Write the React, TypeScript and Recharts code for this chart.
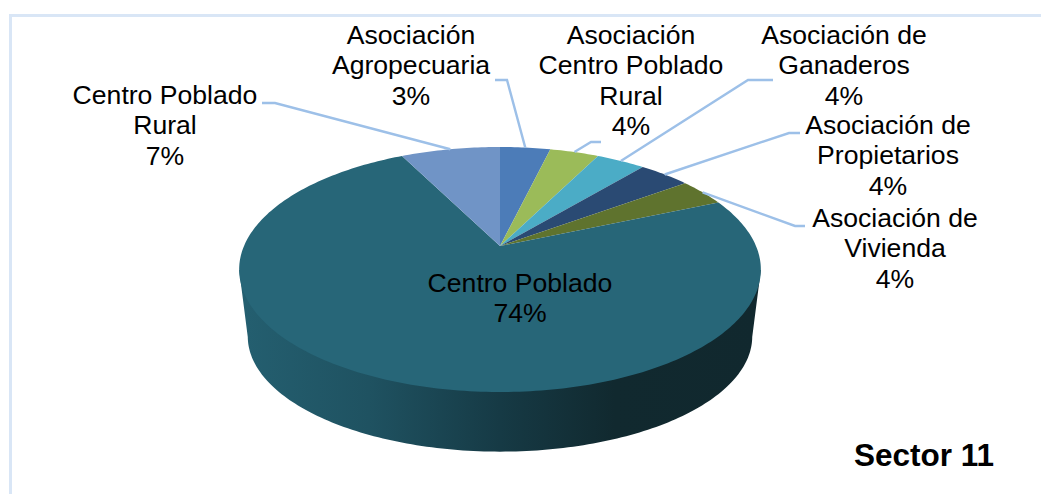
import React from "react";
import { PieChart, Pie } from "recharts";

const categories = [
  "Asociación Agropecuaria",
  "Asociación Centro Poblado Rural",
  "Asociación de Ganaderos",
  "Asociación de Propietarios",
  "Asociación de Vivienda",
  "Centro Poblado",
  "Centro Poblado Rural",
];
const values = [3.75, 3.65, 3.65, 3.85, 3.6, 74.1, 7.4];
const percents = [3, 4, 4, 4, 4, 74, 7];
const labelLines = [
  ["Asociación", "Agropecuaria"],
  ["Asociación", "Centro Poblado", "Rural"],
  ["Asociación de", "Ganaderos"],
  ["Asociación de", "Propietarios"],
  ["Asociación de", "Vivienda"],
  ["Centro Poblado"],
  ["Centro Poblado", "Rural"],
];
const colors = ["#4c7cb8", "#9bbb59", "#4bacc6", "#2a4a73", "#5f732e", "#276678", "#7094c6"];
const chartTitle = "Sector 11";

const data = categories.map((name, i) => ({ name, value: values[i] }));

// where each label sits, and the bent part of its leader (text end, then elbow)
const labelBoxes = [
  { x: 411, y: 44, leader: [[495, 80], [507, 80]] },
  { x: 631, y: 44, leader: [[601, 142], [591, 142]] },
  { x: 844, y: 44, leader: [[773, 80], [748, 80]] },
  { x: 888, y: 134, leader: [[800, 133], [789, 133]] },
  { x: 895, y: 227, leader: [[805, 226], [795, 226]] },
  { x: 520, y: 292, leader: null },
  { x: 165, y: 104, leader: [[262, 103], [275, 103]] },
];

const WIDTH = 1041;
const HEIGHT = 494;
const FONT = "'Liberation Sans', Arial, sans-serif";
const LINE_H = 30.4;

// tilted disc: circle angle -> screen point, the apex is not the middle of the ellipse
const TILT = 0.1918;
const SQUASH = 118 / 256;
const RAD = Math.PI / 180;

const project = (cx: number, cy: number, r: number, deg: number) => {
  const u = Math.cos(deg * RAD);
  const v = Math.sin(deg * RAD);
  const w = 1 + TILT * v;
  return [cx + (r * u) / w, cy - (r * SQUASH * v) / w];
};

const arcPoints = (cx: number, cy: number, r: number, from: number, to: number) => {
  const steps = Math.max(2, Math.ceil(Math.abs(to - from)));
  const pts: number[][] = [];
  for (let i = 0; i <= steps; i++) pts.push(project(cx, cy, r, from + ((to - from) * i) / steps));
  return pts;
};

const toPath = (pts: number[][]) =>
  "M" + pts.map((p) => `${p[0].toFixed(2)},${p[1].toFixed(2)}`).join("L") + "Z";

// side wall, seen only under the big slice
const WALL_FROM = 191.3;
const WALL_TO = 348.7;
const WALL_DROP = 68.4;
const WALL_SX = 0.967;
const WALL_SY = 0.94;

const Wall = ({ cx, cy, r }: { cx: number; cy: number; r: number }) => {
  const rim = arcPoints(cx, cy, r, WALL_FROM, WALL_TO);
  const lower = rim.map((p) => [cx + (p[0] - cx) * WALL_SX, cy + WALL_DROP + (p[1] - cy) * WALL_SY]);
  return (
    <g>
      <defs>
        <linearGradient id="wallFill" x1="0" y1="0" x2="1" y2="0">
          <stop offset="0" stopColor="#245f70" />
          <stop offset="0.25" stopColor="#1f5261" />
          <stop offset="0.5" stopColor="#163a45" />
          <stop offset="0.72" stopColor="#11292f" />
          <stop offset="1" stopColor="#11282e" />
        </linearGradient>
      </defs>
      <path d={toPath([rim[0], ...lower, rim[rim.length - 1]])} fill="url(#wallFill)" />
    </g>
  );
};

const Slice = (props: any) => {
  const { cx, cy, outerRadius, startAngle, endAngle, fill, name } = props;
  const d = toPath([[cx, cy], ...arcPoints(cx, cy, outerRadius, startAngle, endAngle)]);
  return (
    <g>
      {name === "Centro Poblado" && <Wall cx={cx} cy={cy} r={outerRadius} />}
      <path d={d} fill={fill} />
    </g>
  );
};

const renderLabel = (props: any) => {
  const { cx, cy, outerRadius, midAngle, index } = props;
  const box = labelBoxes[index];
  const lines = [...labelLines[index], `${percents[index]}%`];
  const tip = project(cx, cy, outerRadius, midAngle);
  return (
    <g key={index}>
      {box.leader && (
        <polyline
          points={[...box.leader, tip].map((p) => p.join(",")).join(" ")}
          fill="none"
          stroke="#9dc0e8"
          strokeWidth={2.4}
        />
      )}
      <text x={box.x} y={box.y} textAnchor="middle" fontFamily={FONT} fontSize={26.6} fill="#000">
        {lines.map((line, i) => (
          <tspan key={i} x={box.x} y={box.y + i * LINE_H}>
            {line}
          </tspan>
        ))}
      </text>
    </g>
  );
};

export default function App() {
  return (
    <div style={{ position: "absolute", left: 0, top: 0, width: WIDTH, height: HEIGHT, background: "#fff", overflow: "hidden" }}>
      <div
        style={{
          position: "absolute",
          left: 9,
          top: 14,
          width: WIDTH,
          height: HEIGHT,
          borderLeft: "3px solid #d9e6f6",
          borderTop: "3px solid #d9e6f6",
        }}
      />
      <div style={{ position: "absolute", left: 0, top: 0 }}>
        <PieChart width={WIDTH} height={HEIGHT} margin={{ top: 0, right: 0, bottom: 0, left: 0 }}>
          <Pie
            data={data}
            dataKey="value"
            nameKey="name"
            cx={500}
            cy={246}
            outerRadius={256}
            startAngle={90}
            endAngle={-270}
            stroke="none"
            labelLine={false}
            label={renderLabel}
            shape={(p: any, i: number) => <Slice {...p} fill={colors[p.index ?? i]} />}
            isAnimationActive={false}
          />
        </PieChart>
      </div>
      <div
        style={{
          position: "absolute",
          left: 824,
          width: 200,
          top: 438,
          textAlign: "center",
          font: `bold 31.5px ${FONT}`,
          lineHeight: "34px",
          color: "#000",
        }}
      >
        {chartTitle}
      </div>
    </div>
  );
}
